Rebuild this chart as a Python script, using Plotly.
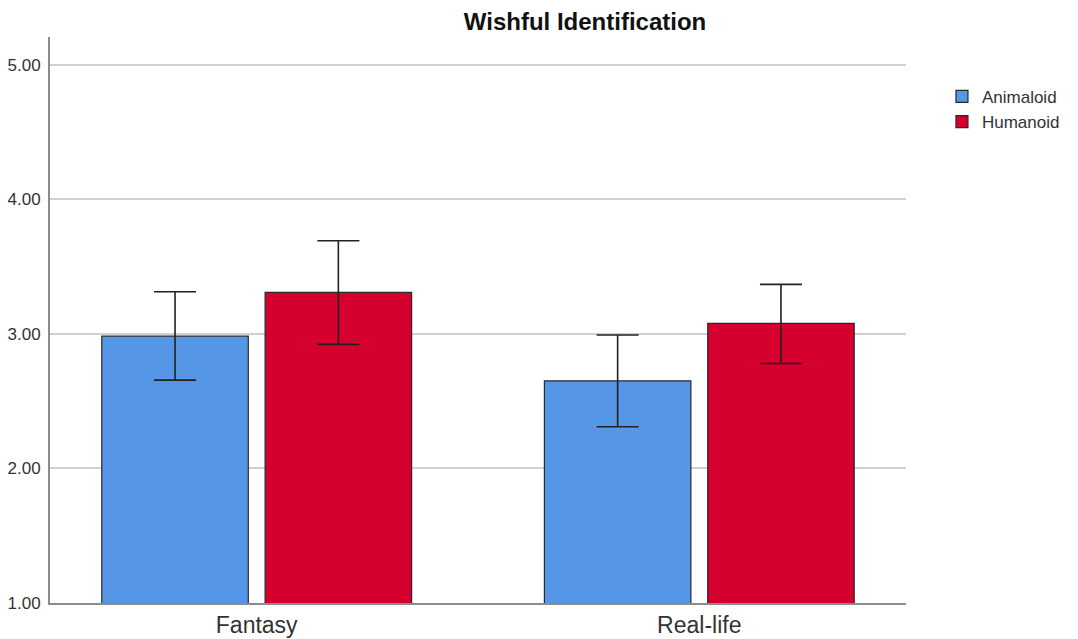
import plotly.graph_objects as go

categories = ["Fantasy", "Real-life"]
animaloid_mean = [2.984, 2.652]
animaloid_upper = [3.314, 2.992]
animaloid_lower = [2.657, 2.310]
humanoid_mean = [3.310, 3.079]
humanoid_upper = [3.693, 3.369]
humanoid_lower = [2.923, 2.781]
ytick_vals = [1, 2, 3, 4, 5]

FONT = "Liberation Sans, Arial, sans-serif"
W, H = 1070, 631


def err(mean, up, lo):
    return dict(type="data", symmetric=False,
                array=[u - m for u, m in zip(up, mean)],
                arrayminus=[m - l for m, l in zip(mean, lo)],
                color="#222222", thickness=1.6, width=21)


fig = go.Figure()
fig.add_trace(go.Bar(
    x=categories, y=animaloid_mean, name="Animaloid",
    marker=dict(color="#5596E6", line=dict(color="#2a2a2a", width=1.2)),
    width=0.331, offset=-0.35,
    error_y=err(animaloid_mean, animaloid_upper, animaloid_lower),
))
fig.add_trace(go.Bar(
    x=categories, y=humanoid_mean, name="Humanoid",
    marker=dict(color="#D5002E", line=dict(color="#2a2a2a", width=1.2)),
    width=0.331, offset=0.019,
    error_y=err(humanoid_mean, humanoid_upper, humanoid_lower),
))

fig.update_layout(
    width=W, height=H,
    margin=dict(l=42, r=172, t=29, b=36, autoexpand=False),
    paper_bgcolor="white", plot_bgcolor="white",
    font=dict(family=FONT, color="#333333"),
    barmode="group",
    title=dict(text="<b>Wishful Identification</b>", x=577 / W, xanchor="center",
               y=1 - 14 / H, yanchor="middle", yref="container",
               font=dict(size=24, color="#111111", family=FONT)),
    legend=dict(x=1.042, xanchor="left", y=0.926, yanchor="top",
                font=dict(size=17, color="#333333"),
                bgcolor="rgba(0,0,0,0)", tracegroupgap=0),
    showlegend=True,
)
fig.update_xaxes(
    type="category", range=[-0.467, 1.467], automargin=False,
    showline=True, linecolor="#8c8c8c", linewidth=2,
    showgrid=False, ticks="", zeroline=False,
    tickfont=dict(size=23, color="#333333"),
)
fig.update_yaxes(
    range=[1, 5.208], tickvals=ytick_vals, tickformat=".2f", automargin=False,
    showline=True, linecolor="#8c8c8c", linewidth=2,
    showgrid=True, gridcolor="#d0d0d0", gridwidth=2,
    zeroline=False, ticks="", ticklabelstandoff=4,
    tickfont=dict(size=17, color="#333333"),
)

fig.write_html("out.html")
